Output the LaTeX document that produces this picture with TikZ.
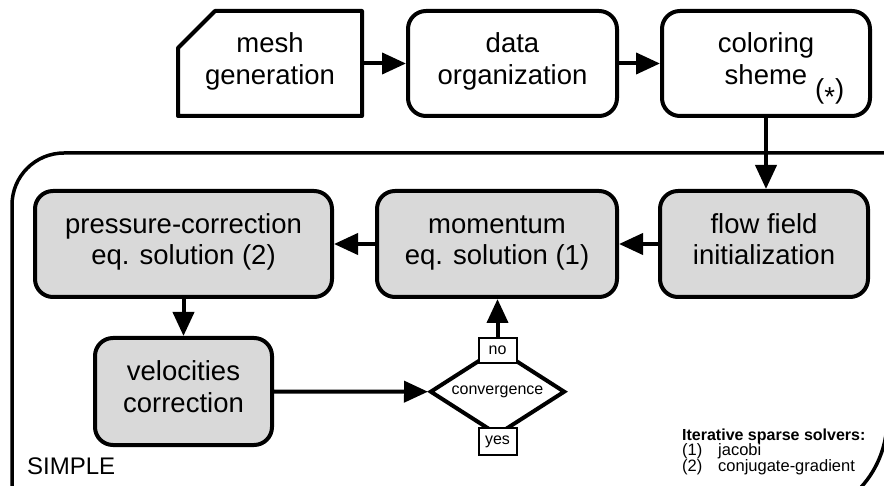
\documentclass[tikz,border=0pt]{standalone}
\usepackage{fontspec}
\setmainfont{Liberation Sans}
\usetikzlibrary{arrows.meta,shapes.geometric,calc}
\definecolor{boxgray}{RGB}{217,217,217}
\newcommand\mystr{\rule[-10pt]{0pt}{30pt}}
\begin{document}
\begin{tikzpicture}[x=1pt,y=-1pt,
  boxline/.style={line width=4pt, line join=round},
  bigtext/.style={font=\fontsize{27.5pt}{31.6pt}\selectfont, align=center, inner sep=0pt},
  topbox/.style={bigtext, draw, boxline, rounded corners=18pt, fill=white, minimum height=105pt},
  simbox/.style={bigtext, draw, boxline, rounded corners=18pt, fill=boxgray, minimum height=106pt},
  arr/.style={line width=4pt, -{Triangle[length=24pt,width=21pt]}},
  smalltext/.style={font=\fontsize{16pt}{18pt}\selectfont, inner sep=0pt},
  ansbox/.style={smalltext, draw, line width=2pt, fill=white, minimum width=38pt, minimum height=25pt},
  legtext/.style={font=\fontsize{16.5pt}{18pt}\selectfont, inner sep=0pt, anchor=base west},
  decision/.style={smalltext, draw, shape=diamond, line width=4pt, line join=miter, aspect=1.55, minimum width=135pt, minimum height=87pt, fill=white}
]
\useasboundingbox (0,0) rectangle (884,486);
\clip (0,0) rectangle (884,486);

% SIMPLE frame
\draw[line width=3.5pt] (12,540) -- (12,205) arc[start angle=180,end angle=90,radius=52pt]
  -- (887,153) -- (887,420) arc[start angle=0,end angle=-90,radius=100pt] -- (12,520);

% top row
\node[bigtext, outer sep=0pt, minimum width=184pt, minimum height=105pt] (mesh) at (270,63.5) {\mystr mesh\\\mystr generation};
\draw[boxline] ($(mesh.north west)+(0pt,-37pt)$) -- ($(mesh.north west)+(37pt,0pt)$) -- (mesh.north east) -- (mesh.south east) -- (mesh.south west) -- cycle;
\node[topbox, minimum width=209pt] (data) at (512.5,63.5) {\mystr data\\\mystr organization};
\node[topbox, minimum width=208pt] (col) at (766,63.5) {\mystr coloring\\\mystr sheme};
\node[bigtext, anchor=base west] (star) at (815,98.5) {(\raisebox{-0.3em}{*})};

% SIMPLE loop
\node[simbox, minimum width=208pt] (flow) at (764,244) {\mystr flow field\\\mystr initialization};
\node[simbox, minimum width=240pt] (mom) at (497,244) {\mystr momentum\\\mystr eq. solution (1)};
\node[simbox, minimum width=297pt] (press) at (183.5,244) {\mystr pressure-correction\\\mystr eq. solution (2)};
\node[simbox, minimum width=177pt, minimum height=107pt] (vel) at (183.5,391.5) {\mystr velocities\\\mystr correction};
\node[decision] (conv) at (497.5,391.7) {convergence};
\node[ansbox] (no) at (497.5,350.5) {no};
\node[ansbox, minimum height=27pt] (yes) at (497.5,441.5) {yes};

% connectors
\draw[arr] (mesh.east) -- (data.west);
\draw[arr] (data.east) -- (col.west);
\draw[arr] (col.south) -- (col.south |- flow.north);
\draw[arr] (flow.west) -- (mom.east);
\draw[arr] (mom.west) -- (press.east);
\draw[arr] (press.south) -- (vel.north);
\draw[arr] (vel.east) -- (conv.west);
\draw[arr] (no.north) -- (no.north |- mom.south);

% labels
\node[font=\fontsize{24pt}{28pt}\selectfont, inner sep=0pt, anchor=base west] (simple) at (27,474) {SIMPLE};
\node[legtext, font=\bfseries\fontsize{16pt}{18pt}\selectfont] (leghead) at (682,440.5) {Iterative sparse solvers:};
\node[legtext] (leg1n) at (682,455.5) {(1)};
\node[legtext] (leg1t) at (718,455.5) {jacobi};
\node[legtext] (leg2n) at (682,471) {(2)};
\node[legtext] (leg2t) at (718,471) {conjugate-gradient};
\end{tikzpicture}
\end{document}
